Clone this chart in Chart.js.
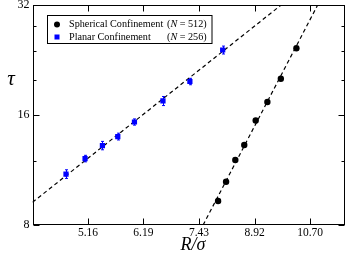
<!DOCTYPE html>
<html>
<head>
<meta charset="utf-8">
<script src="https://cdn.jsdelivr.net/npm/chart.js"></script>
<style>
  html, body { margin: 0; padding: 0; background: #fff; }
</style>
</head>
<body>
<canvas id="myChart" width="349" height="253"></canvas>
<script>
// values (R/sigma, tau)
const sphericalR   = [7.91, 8.12, 8.37, 8.62, 8.95, 9.30, 9.72, 10.23];
const sphericalTau = [9.31, 10.51, 12.05, 13.25, 15.46, 17.37, 20.11, 24.36];
const planarR      = [4.80, 5.11, 5.41, 5.69, 6.01, 6.60, 7.21, 8.03];
const planarTau    = [11.03, 12.16, 13.20, 13.97, 15.31, 17.48, 19.76, 24.10];
const planarErr    = [0.30, 0.25, 0.35, 0.30, 0.30, 0.50, 0.40, 0.60];

// dashed fit lines, endpoints where they leave the frame
const planarFitR      = [4.30, 9.73];
const planarFitTau    = [9.23, 32];
const sphericalFitR   = [7.53, 10.97];
const sphericalFitTau = [8, 32];

const xTicks = [5.16, 6.19, 7.43, 8.92, 10.70];
const xTickLabels = ['5.16', '6.19', '7.43', '8.92', '10.70'];
const yTicks = [8, 16, 32];
const yMinorTicks = [12, 20, 24, 28];

const legendLabels = ['Spherical Confinement', 'Planar Confinement'];
const legendN = ['512', '256'];

const SERIF = '"Liberation Serif", serif';

function pts(xs, ys) {
  return xs.map((x, i) => ({ x: x, y: ys[i] }));
}

const framePlugin = {
  id: 'frame',
  afterDatasetsDraw(chart) {
    const ctx = chart.ctx;
    const xs = chart.scales.x, ys = chart.scales.y;
    ctx.save();
    ctx.strokeStyle = '#0000ff';
    ctx.lineWidth = 1;
    planarR.forEach((r, i) => {
      const px = Math.round(xs.getPixelForValue(r)) + 0.5;
      const y1 = ys.getPixelForValue(planarTau[i] - planarErr[i]);
      const y2 = ys.getPixelForValue(planarTau[i] + planarErr[i]);
      ctx.beginPath();
      ctx.moveTo(px, y1); ctx.lineTo(px, y2);
      ctx.moveTo(px - 1.5, y1); ctx.lineTo(px + 1.5, y1);
      ctx.moveTo(px - 1.5, y2); ctx.lineTo(px + 1.5, y2);
      ctx.stroke();
    });
    ctx.restore();
  },
  afterDraw(chart) {
    const ctx = chart.ctx;
    const a = chart.chartArea;
    const xs = chart.scales.x, ys = chart.scales.y;
    ctx.save();
    ctx.strokeStyle = '#000';
    ctx.lineWidth = 1;
    const L = Math.round(a.left) + 0.5, R = Math.round(a.right) - 0.5;
    const T = Math.round(a.top) + 0.5, B = Math.round(a.bottom) - 0.5;
    ctx.strokeRect(L, T, R - L, B - T);

    // inward tick marks on all four sides
    ctx.beginPath();
    xTicks.forEach(v => {
      const px = Math.round(xs.getPixelForValue(v)) + 0.5;
      ctx.moveTo(px, B); ctx.lineTo(px, B - 6);
      ctx.moveTo(px, T); ctx.lineTo(px, T + 6);
    });
    yTicks.forEach(v => {
      const py = Math.round(ys.getPixelForValue(v)) + 0.5;
      ctx.moveTo(L, py); ctx.lineTo(L + 6, py);
      ctx.moveTo(R, py); ctx.lineTo(R - 6, py);
    });
    yMinorTicks.forEach(v => {
      const py = Math.round(ys.getPixelForValue(v)) + 0.5;
      ctx.moveTo(L, py); ctx.lineTo(L + 3, py);
      ctx.moveTo(R, py); ctx.lineTo(R - 3, py);
    });
    ctx.stroke();

    // legend box
    const bx = 47.5, by = 15.5, bw = 164.5, bh = 28;
    ctx.fillStyle = '#fff';
    ctx.fillRect(bx, by, bw, bh);
    ctx.strokeRect(bx, by, bw, bh);

    ctx.fillStyle = '#000';
    ctx.beginPath();
    ctx.arc(57, 24.5, 3, 0, Math.PI * 2);
    ctx.fill();
    ctx.fillStyle = '#0000ff';
    ctx.fillRect(54.5, 34.5, 5, 5);

    ctx.fillStyle = '#000';
    ctx.textBaseline = 'middle';
    const rows = [24.5, 37];
    rows.forEach((y, i) => {
      ctx.font = '10.2px ' + SERIF;
      ctx.fillText(legendLabels[i], 69, y);
      let x = 167;
      ctx.fillText('(', x, y);
      x += ctx.measureText('(').width;
      ctx.font = 'italic 10.2px ' + SERIF;
      ctx.fillText('N', x, y);
      x += ctx.measureText('N').width;
      ctx.font = '10.2px ' + SERIF;
      ctx.fillText(' = ' + legendN[i] + ')', x, y);
    });

    // axis titles
    ctx.textAlign = 'center';
    ctx.font = 'italic 21px ' + SERIF;
    ctx.fillText('\u03C4', 11, 79);
    ctx.font = 'italic 18px ' + SERIF;
    ctx.fillText('R/\u03C3', 193, 245);
    ctx.restore();
  }
};

const ctx = document.getElementById('myChart');
new Chart(ctx, {
  type: 'scatter',
  data: {
    datasets: [
      {
        label: 'Planar fit',
        data: pts(planarFitR, planarFitTau),
        showLine: true,
        borderColor: '#000',
        borderWidth: 1.2,
        borderDash: [4, 3],
        pointRadius: 0,
        order: 3
      },
      {
        label: 'Spherical fit',
        data: pts(sphericalFitR, sphericalFitTau),
        showLine: true,
        borderColor: '#000',
        borderWidth: 1.2,
        borderDash: [4, 3],
        pointRadius: 0,
        order: 3
      },
      {
        label: 'Spherical Confinement (N = 512)',
        data: pts(sphericalR, sphericalTau),
        pointStyle: 'circle',
        pointRadius: 3.2,
        backgroundColor: '#000',
        borderColor: '#000',
        borderWidth: 0,
        order: 1
      },
      {
        label: 'Planar Confinement (N = 256)',
        data: pts(planarR, planarTau),
        pointStyle: 'rect',
        pointRadius: 3.7,
        backgroundColor: '#0000ff',
        borderColor: '#0000ff',
        borderWidth: 0,
        order: 2
      }
    ]
  },
  options: {
    responsive: false,
    animation: false,
    layout: { padding: { top: 5, right: 1, left: 0, bottom: 0 } },
    plugins: {
      legend: { display: false },
      tooltip: { enabled: false }
    },
    scales: {
      x: {
        type: 'logarithmic',
        min: 4.30,
        max: 12.0,
        bounds: 'data',
        grid: { display: false, drawTicks: false },
        border: { display: false },
        ticks: {
          autoSkip: false,
          maxRotation: 0,
          padding: 1,
          color: '#000',
          font: { family: SERIF, size: 11.5 },
          callback: (v, i) => xTickLabels[i]
        },
        afterBuildTicks: s => { s.ticks = xTicks.map(v => ({ value: v })); },
        afterFit: s => {
          s.height = 28;
          s.paddingLeft = 0; s.paddingRight = 0;
        }
      },
      y: {
        type: 'logarithmic',
        min: 8,
        max: 32,
        bounds: 'data',
        grid: { display: false, drawTicks: false },
        border: { display: false },
        ticks: {
          autoSkip: false,
          padding: 3,
          color: '#000',
          font: { family: SERIF, size: 12 },
          callback: v => String(v)
        },
        afterBuildTicks: s => { s.ticks = yTicks.map(v => ({ value: v })); },
        afterFit: s => {
          s.width = 32.5;
          s.paddingTop = 0; s.paddingBottom = 0;
        }
      }
    }
  },
  plugins: [framePlugin]
});
</script>
</body>
</html>
